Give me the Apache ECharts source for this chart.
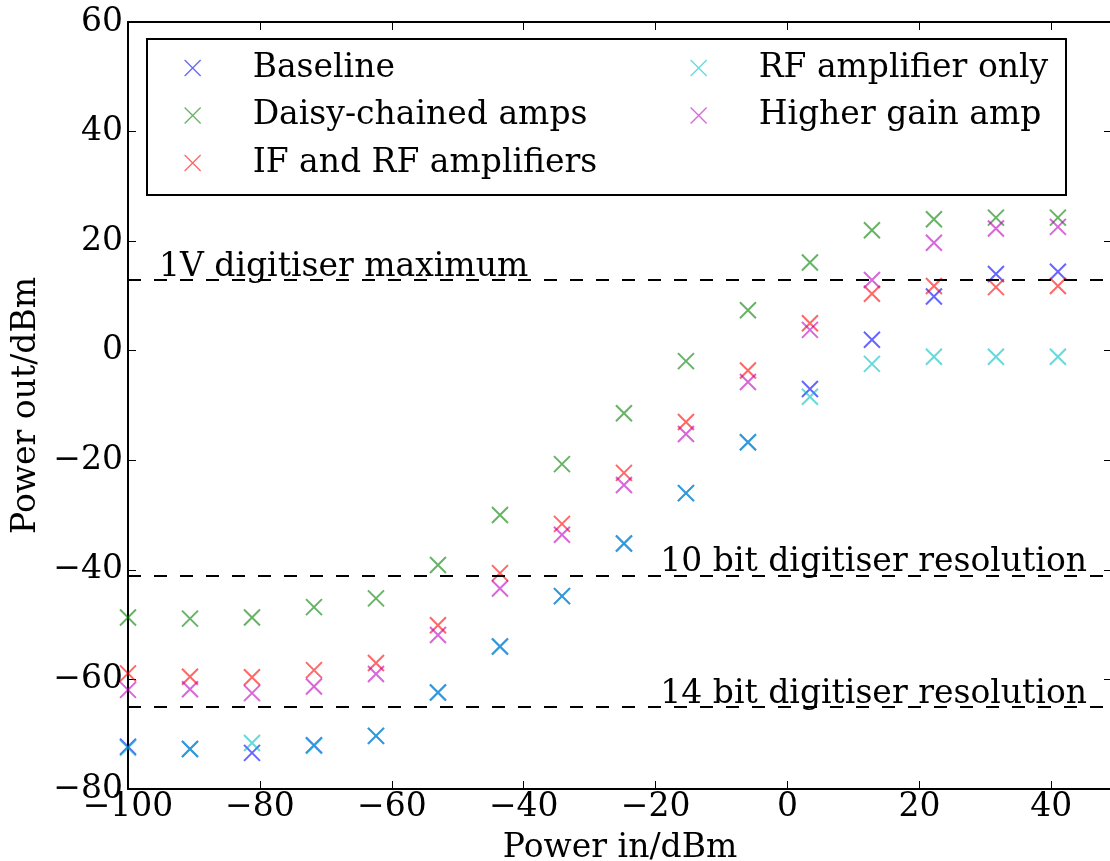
<!DOCTYPE html>
<html><head><meta charset="utf-8">
<script src="https://cdn.jsdelivr.net/npm/echarts@6/dist/echarts.min.js"></script>
<style>html,body{margin:0;padding:0;background:#fff}#c{width:1110px;height:861px}</style>
</head><body><div id="c"></div>
<script>
const powerIn = [-100,-90.6,-81.2,-71.8,-62.4,-53,-43.6,-34.2,-24.8,-15.4,-6,3.4,12.8,22.2,31.6,41];
const baseline = [-72.3,-72.7,-73.4,-72.0,-70.3,-62.4,-54.0,-44.8,-35.2,-26.0,-16.7,-7.0,2.0,9.9,14.0,14.4];
const daisyChained = [-48.7,-48.9,-48.7,-46.8,-45.2,-39.1,-30.0,-20.7,-11.4,-1.9,7.4,16.1,22.0,24.0,24.3,24.3];
const ifAndRf = [-58.9,-59.5,-59.6,-58.3,-57.0,-50.1,-40.6,-31.6,-22.3,-13.0,-3.6,5.0,10.4,11.8,11.6,11.8];
const rfOnly = [-72.5,-72.7,-71.6,-72.1,-70.3,-62.4,-54.0,-44.8,-35.2,-26.0,-16.7,-8.4,-2.4,-1.1,-1.1,-1.1];
const higherGain = [-61.9,-61.8,-62.5,-61.3,-59.0,-51.9,-43.4,-33.6,-24.5,-15.2,-5.7,3.8,12.9,19.7,22.3,22.6];
const seriesNames = ['Baseline','Daisy-chained amps','IF and RF amplifiers','RF amplifier only','Higher gain amp'];
const refLevels = [13, -41, -65];
const refLabels = ['1V digitiser maximum', '10 bit digitiser resolution', '14 bit digitiser resolution'];
const xLabel = 'Power in/dBm';
const yLabel = 'Power out/dBm';

const colors = ['rgba(0,0,255,0.75)','rgba(0,128,0,0.75)','rgba(255,0,0,0.75)','rgba(0,191,191,0.75)','rgba(191,0,191,0.75)'];
const values = [baseline, daisyChained, ifAndRf, rfOnly, higherGain];
const FONT = 'DejaVu Serif';
const FS = 33;
const XICON = 'path://M0,0L10,10M10,0L0,10';
const minus = v => String(v).replace('-', '\u2212');

const scatterSeries = seriesNames.map((name, i) => ({
  name, type: 'scatter', symbol: XICON, symbolSize: 16,
  data: powerIn.map((x, j) => [x, values[i][j]]),
  itemStyle: {color: 'rgba(0,0,0,0)', borderColor: colors[i], borderWidth: 2},
  emphasis: {disabled: true}
}));

const refSeries = {
  type: 'line', data: [], silent: true,
  markLine: {
    symbol: ['none','none'], silent: true,
    lineStyle: {color: '#000', width: 2, type: [13, 13]},
    data: refLevels.map((v, i) => ({
      yAxis: v,
      label: {
        show: true, formatter: refLabels[i],
        position: i === 0 ? 'insideStartTop' : 'insideEndTop',
        distance: -4,
        padding: i === 0 ? [0,0,0,35] : [0,29,0,0],
        fontFamily: FONT, fontSize: FS, color: '#000', lineHeight: 33
      }
    }))
  }
};

function legendOf(names, left) {
  return {
    left, top: 48, orient: 'vertical', padding: 0,
    itemWidth: 16, itemHeight: 16, itemGap: 7.5,
    textStyle: {fontFamily: FONT, fontSize: FS, color: '#000', lineHeight: 40, padding: [0,0,0,47]},
    data: names.map(n => {
      const i = seriesNames.indexOf(n);
      return {name: n, icon: XICON, itemStyle: {color: 'rgba(0,0,0,0)', borderColor: colors[i], borderWidth: 1.3}};
    })
  };
}

const axisCommon = {
  axisLine: {show: true, onZero: false, lineStyle: {color: '#000', width: 2}},
  axisTick: {show: true, inside: true, length: 8, lineStyle: {color: '#000', width: 1}},
  splitLine: {show: false}
};

const option = {
  animation: false,
  backgroundColor: '#fff',
  grid: {left: 128, top: 22, right: -2, bottom: 72, containLabel: false, outerBoundsMode: 'none'},
  xAxis: [
    Object.assign({type: 'value', min: -100, max: 49.2, interval: 20, position: 'bottom',
      name: xLabel, nameLocation: 'middle', nameGap: 43,
      nameTextStyle: {fontFamily: FONT, fontSize: FS, color: '#000'},
      axisLabel: {fontFamily: FONT, fontSize: FS, color: '#000', margin: 2, showMaxLabel: false, formatter: minus}}, axisCommon),
    Object.assign({type: 'value', min: -100, max: 49.2, interval: 20, position: 'top', axisLabel: {show: false}}, axisCommon)
  ],
  yAxis: [
    Object.assign({type: 'value', min: -80, max: 60, interval: 20, position: 'left',
      name: yLabel, nameLocation: 'middle', nameGap: 74, nameRotate: 90,
      nameTextStyle: {fontFamily: FONT, fontSize: FS, color: '#000'},
      axisLabel: {fontFamily: FONT, fontSize: FS, color: '#000', margin: 5, formatter: minus}}, axisCommon),
    Object.assign({type: 'value', min: -80, max: 60, interval: 20, position: 'right', axisLabel: {show: false}}, axisCommon)
  ],
  legend: [legendOf(seriesNames.slice(0,3), 184), legendOf(seriesNames.slice(3), 690)],
  graphic: [{type: 'rect', left: 146, top: 38, shape: {width: 919, height: 156},
    style: {fill: '#fff', stroke: '#000', lineWidth: 2}, z: 0, zlevel: 0}],
  series: scatterSeries.concat([refSeries])
};

const chart = echarts.init(document.getElementById('c'), null, {renderer: 'canvas'});
chart.setOption(option);
</script></body></html>
